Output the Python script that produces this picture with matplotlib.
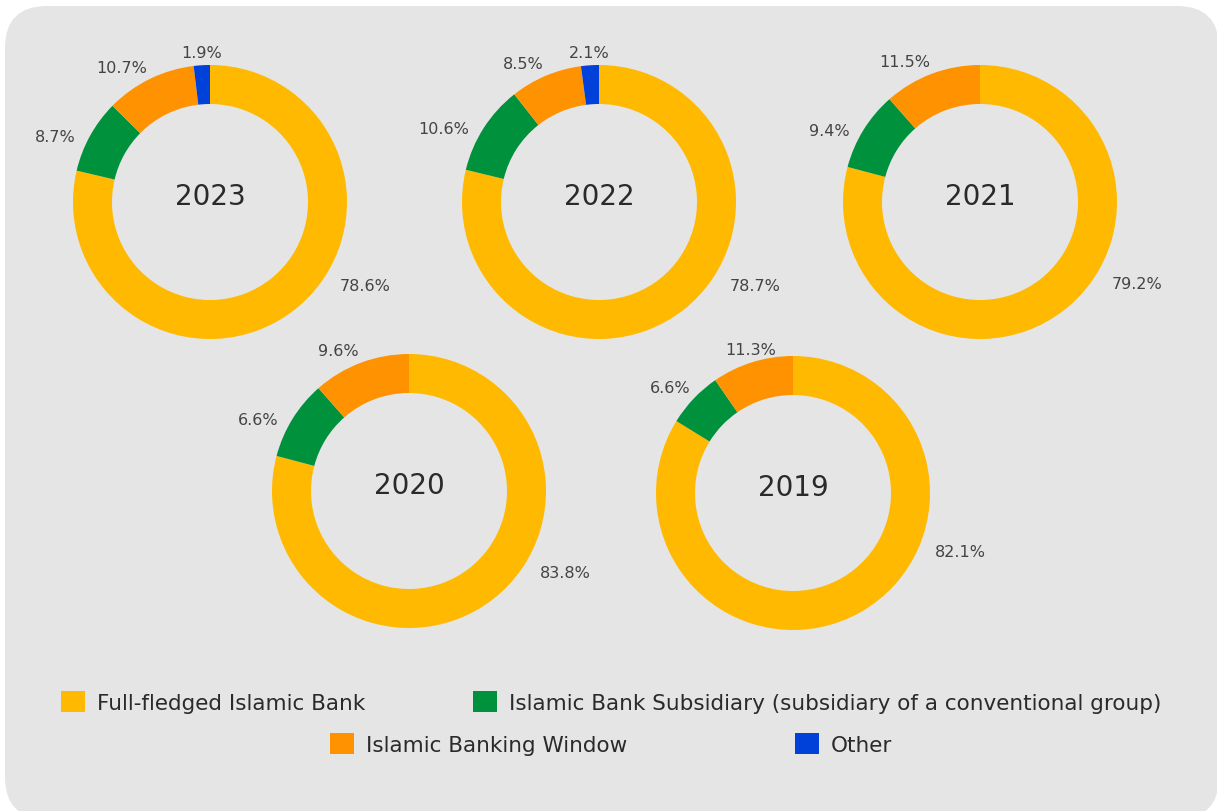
import numpy as np
import matplotlib.pyplot as plt
from matplotlib.patches import FancyBboxPatch, Patch

W, H = 1217, 812

categories = [
    "Full-fledged Islamic Bank",
    "Islamic Bank Subsidiary (subsidiary of a conventional group)",
    "Islamic Banking Window",
    "Other",
]
colors = ["#ffb900", "#00913d", "#ff9200", "#0041d9"]
years = ["2023", "2022", "2021", "2020", "2019"]

# shares as drawn in the rings (%)
ring_full = [78.6, 78.7, 79.2, 79.2, 83.8]
ring_subsidiary = [8.7, 10.6, 9.4, 9.4, 6.6]
ring_window = [10.7, 8.5, 11.5, 11.5, 9.6]
ring_other = [1.9, 2.1, 0.0, 0.0, 0.0]

# percentages printed next to the slices
label_full = [78.6, 78.7, 79.2, 83.8, 82.1]
label_subsidiary = [8.7, 10.6, 9.4, 6.6, 6.6]
label_window = [10.7, 8.5, 11.5, 9.6, 11.3]
label_other = [1.9, 2.1, 0.0, 0.0, 0.0]

# ring centres in pixels (from the top-left corner)
centres = [(210, 203), (599, 203), (980, 203), (409, 492), (793, 494)]
R = 137
RING = 39

plt.rcParams["font.family"] = ["DejaVu Sans"]

fig = plt.figure(figsize=(W / 100, H / 100), dpi=100)
fig.patch.set_facecolor("white")
ax = fig.add_axes([0, 0, 1, 1])

bg = FancyBboxPatch((5, -8), 1214, 813, boxstyle="round,pad=0,rounding_size=42",
                    facecolor="#e5e5e5", edgecolor="none", zorder=0)
ax.add_patch(bg)

for i, year in enumerate(years):
    vals = [ring_full[i], ring_subsidiary[i], ring_window[i], ring_other[i]]
    labs = [label_full[i], label_subsidiary[i], label_window[i], label_other[i]]
    keep = [k for k, v in enumerate(vals) if v > 0]
    cx, cy = centres[i][0], H - centres[i][1]
    wedges, _ = ax.pie([vals[k] for k in keep], colors=[colors[k] for k in keep],
                       startangle=90, counterclock=False, radius=R, center=(cx, cy),
                       wedgeprops=dict(width=RING, linewidth=0), frame=True)
    for w, k in zip(wedges, keep):
        txt = f"{labs[k]:.1f}%"
        mid = (w.theta1 + w.theta2) / 2
        if mid > 180:
            mid -= 360
        if vals[k] > 50:
            # the big slice gets its label on the lower right
            a = np.deg2rad(-(mid + 80))
            ax.text(cx + 1.29 * R * np.cos(a), cy + 1.29 * R * np.sin(a), txt,
                    ha="center", va="center", fontsize=11.5, color="#444444")
            continue
        a = np.deg2rad(mid)
        c, s = np.cos(a), np.sin(a)
        ha = "left" if c > 0.3 else ("right" if c < -0.3 else "center")
        va = "bottom" if s > 0.6 else ("top" if s < -0.6 else "center")
        r = R + 5
        if va == "center":
            r = R + 12
            a = np.deg2rad(mid + 3)
            c, s = np.cos(a), np.sin(a)
        ax.text(cx + r * c, cy + r * s, txt, ha=ha, va=va,
                fontsize=11.5, color="#444444")
    ax.text(cx, cy + 6, year, ha="center", va="center", fontsize=20, color="#2a2a2a")

ax.set_xlim(0, W)
ax.set_ylim(0, H)
ax.set_aspect("equal")
ax.axis("off")

# legend in two centred rows
fs = 15.5
fpx = fs * 100 / 72
handles = [Patch(facecolor=c, edgecolor="none") for c in colors]
common = dict(frameon=False, fontsize=fs, handlelength=24 / fpx, handleheight=24 / fpx,
              handletextpad=12 / fpx, borderpad=0, borderaxespad=0, loc="center",
              labelcolor="#2a2a2a")
leg1 = ax.legend(handles[:2], categories[:2], ncol=2, columnspacing=108 / fpx,
                 bbox_to_anchor=(0.502, 1 - 703 / H), bbox_transform=fig.transFigure, **common)
ax.add_artist(leg1)
ax.legend(handles[2:], categories[2:], ncol=2, columnspacing=168 / fpx,
          bbox_to_anchor=(0.502, 1 - 745 / H), bbox_transform=fig.transFigure, **common)

fig.savefig("out.png", dpi=100, facecolor="white")
